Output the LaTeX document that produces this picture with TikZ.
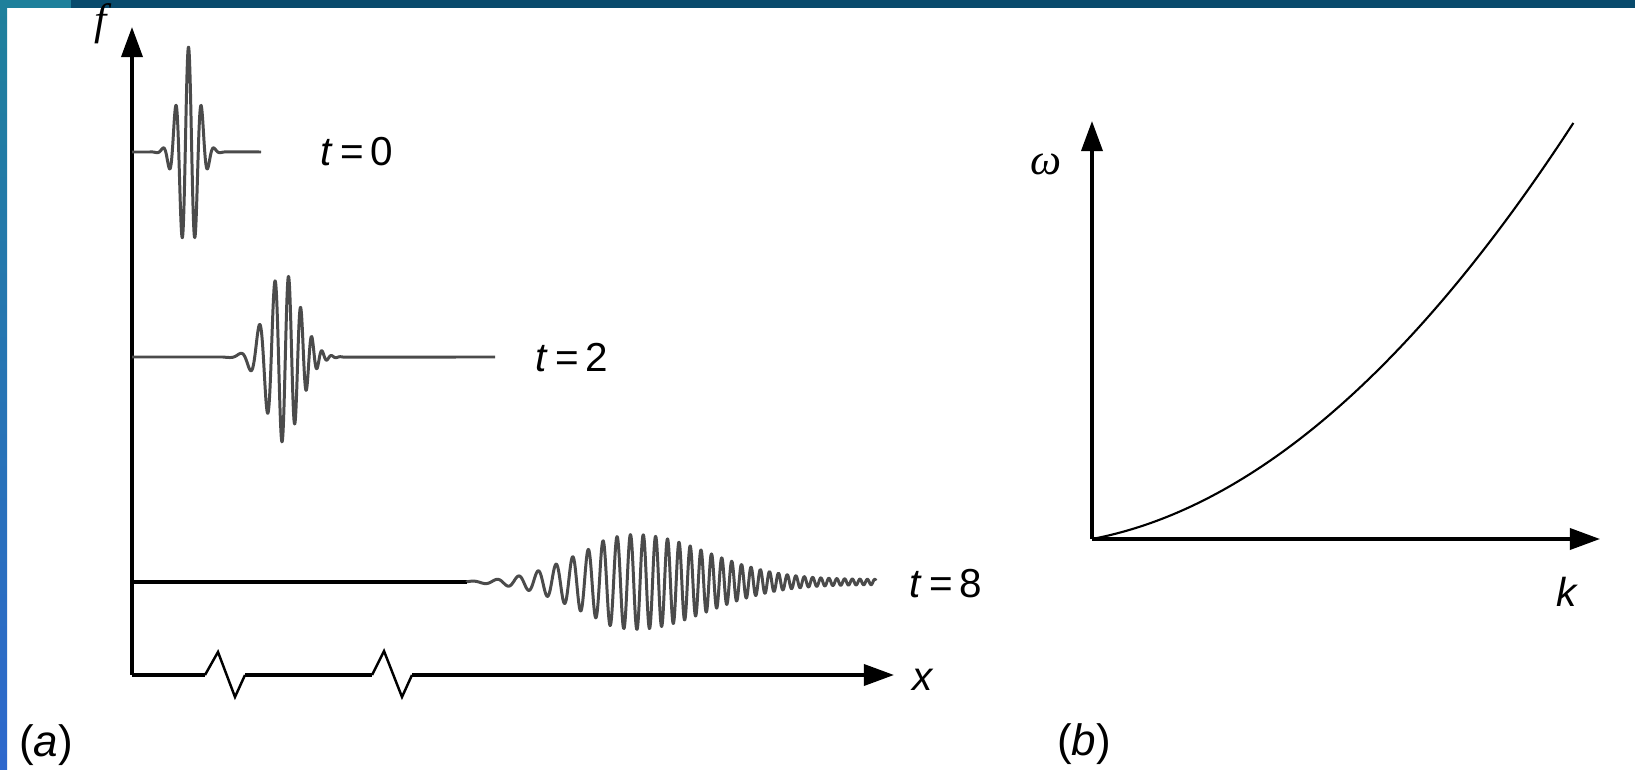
\documentclass[tikz,border=0pt]{standalone}
\usepackage{fontspec}
\setmainfont{Liberation Sans}
\newfontfamily\tmsfont{Liberation Serif}
\usetikzlibrary{arrows.meta}
\definecolor{topdark}{RGB}{8,74,108}
\definecolor{topteal}{RGB}{30,128,155}
\definecolor{stripetop}{RGB}{30,128,155}
\definecolor{stripebot}{RGB}{46,104,205}
\definecolor{wavegray}{RGB}{75,75,75}
\begin{document}
\begin{tikzpicture}[x=0.01cm,y=-0.01cm,
  axisline/.style={line width=1pt,black},
  axisarrow/.style={line width=1pt,black,-{Triangle[length=0.3cm,width=0.21cm]}},
  zig/.style={line width=0.7pt,black},
  wave/.style={line width=0.85pt,wavegray,line join=round},
  curveline/.style={line width=0.6pt,black},
  lbl/.style={inner sep=0pt,font=\fontsize{11.5pt}{13pt}\selectfont},
  tmslbl/.style={inner sep=0pt,font=\fontsize{12.5pt}{14pt}\selectfont\tmsfont\itshape},
  declare function={envB(\t)=45*exp(-0.5*((\t-635)/(\t<635?58:72))*((\t-635)/(\t<635?58:72)))+(\t>600?2.5:0);}
]
\useasboundingbox (0,0) rectangle (1635,770);
\fill[white] (0,0) rectangle (1635,770);
% frame decoration
\fill[topdark] (70,0) rectangle (1635,8);
\fill[topteal] (0,0) rectangle (71,8);
\shade[top color=stripetop,bottom color=stripebot] (0,0) rectangle (7,770);

% ---------- panel (a) ----------
\coordinate (fO) at (132,675);
\coordinate (fT) at (132,27);
\coordinate (z1a) at (205,675);
\coordinate (z1b) at (245,675);
\coordinate (z2a) at (372,675);
\coordinate (z2b) at (412,675);
\coordinate (xT) at (894,675);
\draw[axisarrow] (fO) -- (fT);
\draw[axisline] (fO) -- (z1a);
\draw[zig] (z1a) -- (218,652) -- (235,697) -- (z1b);
\draw[axisline] (z1b) -- (z2a);
\draw[zig] (z2a) -- (384,651) -- (402,697) -- (z2b);
\draw[axisarrow] (z2b) -- (xT);

% t = 0 packet
\coordinate (w0s) at (132,152);
\coordinate (w0e) at (261,152);
\draw[wave] (w0s) -- (150,152) -- plot[domain=150:228,samples=300]
  (\x,{152-105*exp(-(\x-188.5)*(\x-188.5)/200)*cos(360*(\x-188.5)/13)}) -- (w0e);

% t = 2 packet
\coordinate (w2s) at (132,357);
\coordinate (w2e) at (495,357);
\draw[wave] (w2s) -- (223,357) -- plot[domain=223:343,samples=400]
  (\x,{357+85*exp(-(\x-283)*(\x-283)/578)*cos(27+26.75*(\x-283)+0.1244*(\x-283)*(\x-283))}) -- (w2e);

% t = 8 packet
\coordinate (w8s) at (132,582);
\coordinate (w8m) at (467,582);
\coordinate (w8e) at (876,582);
\draw[line width=0.95pt,black] (w8s) -- (w8m);
\draw[wave] (w8m) -- plot[domain=467:876,samples=1100]
  (\x,{582-envB(\x)*cos(13*(\x-467)+(0.2105*(\x-467))*(0.2105*(\x-467))-428.4)});

% labels (a)
\node[tmslbl] (flab) at (101,24) {f};
\node[lbl] (t0) at (357,152) {\textit{t}\,=\,0};
\node[lbl] (t2) at (572,358) {\textit{t}\,=\,2};
\node[lbl] (t8) at (946,584) {\textit{t}\,=\,8};
\node[lbl] (xlab) at (923,680) {\textit{x}};
\node[lbl,font=\fontsize{12.5pt}{14pt}\selectfont] (alab) at (46,745) {(\textit{a})};

% ---------- panel (b) ----------
\coordinate (bO) at (1092,539);
\coordinate (wT) at (1092,121);
\coordinate (kT) at (1600,539);
\draw[axisarrow] (bO) -- (wT);
\draw[axisarrow] (bO) -- (kT);
\draw[curveline] plot[domain=0:1,samples=120] ({1092+482*\x},{539-417*(0.22*\x+0.78*\x*\x)});
\node[tmslbl] (wlab) at (1046,164) {ω};
\node[lbl] (klab) at (1567,592) {\textit{k}};
\node[lbl,font=\fontsize{12.5pt}{14pt}\selectfont] (blab) at (1084,744) {(\textit{b})};
\end{tikzpicture}
\end{document}
